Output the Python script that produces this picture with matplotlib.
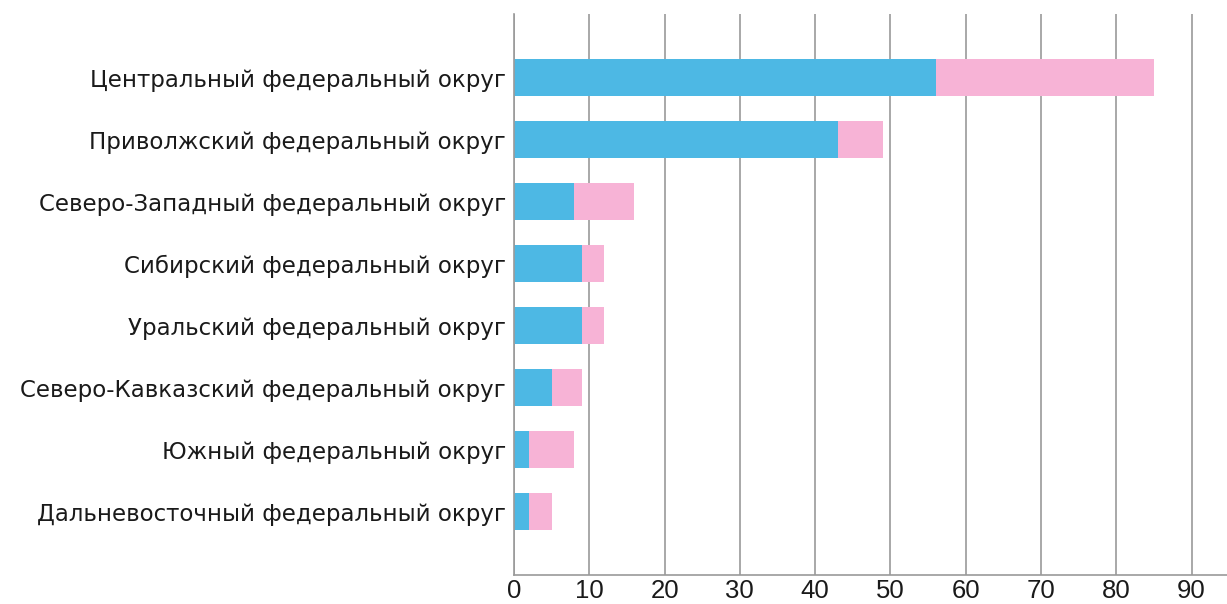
import matplotlib
matplotlib.use("Agg")
import matplotlib.pyplot as plt
import numpy as np

districts = [
    "Центральный федеральный округ",
    "Приволжский федеральный округ",
    "Северо-Западный федеральный округ",
    "Сибирский федеральный округ",
    "Уральский федеральный округ",
    "Северо-Кавказский федеральный округ",
    "Южный федеральный округ",
    "Дальневосточный федеральный округ",
]
blue_values = [56, 43, 8, 9, 9, 5, 2, 2]
pink_values = [29, 6, 8, 3, 3, 4, 6, 3]
x_ticks = [0, 10, 20, 30, 40, 50, 60, 70, 80, 90]

BLUE = "#4DB8E4"
PINK = "#F7B3D6"
GRID = "#9a9a9a"
TEXT = "#1a1a1a"

plt.rcParams["font.family"] = ["Liberation Sans", "DejaVu Sans"]

fig = plt.figure(figsize=(12.27, 6.04), dpi=100)
ax = fig.add_axes([0.4189, 0.048, 0.5811, 0.929])

y = np.arange(len(districts))
ax.barh(y, blue_values, height=0.6, color=BLUE, zorder=3)
ax.barh(y, pink_values, left=blue_values, height=0.6, color=PINK, zorder=3)

ax.set_xlim(0, 94.7)
ax.set_ylim(8.02, -1.03)
ax.set_xticks(x_ticks)
ax.set_yticks(y)
ax.set_yticklabels(districts, family=["DejaVu Sans"], fontsize=16.5)

ax.grid(axis="x", color=GRID, linewidth=1.2, zorder=0)
ax.grid(axis="y", visible=False)
for side in ("top", "right"):
    ax.spines[side].set_visible(False)
for side in ("bottom", "left"):
    ax.spines[side].set_color(GRID)
    ax.spines[side].set_linewidth(1.2)
    ax.spines[side].set_zorder(4)

ax.tick_params(axis="both", length=0, colors=TEXT)
ax.tick_params(axis="x", labelsize=18.5, pad=3)
ax.tick_params(axis="y", pad=6)

fig.savefig("out.png", dpi=100)
